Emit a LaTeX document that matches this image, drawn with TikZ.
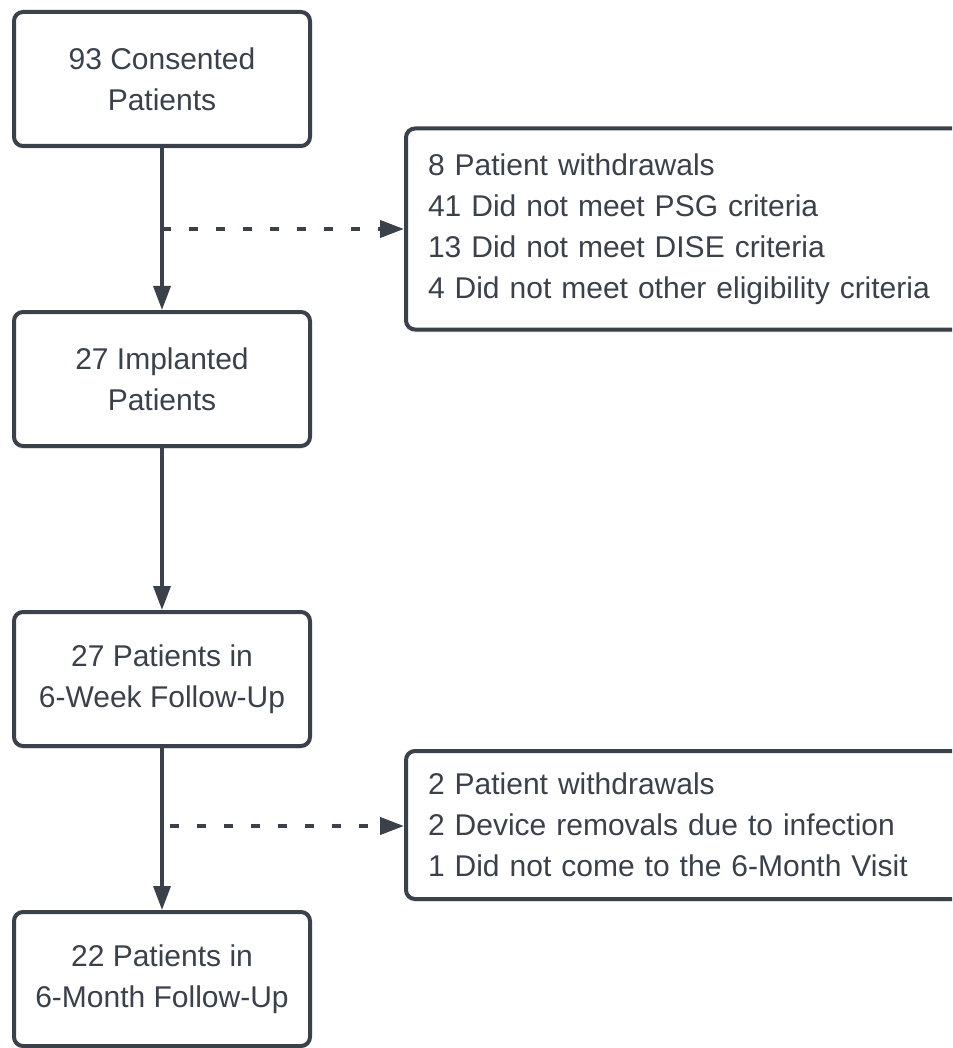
\documentclass[tikz,border=0pt]{standalone}
\usepackage{fontspec}
\setmainfont{Liberation Sans}
\usetikzlibrary{positioning,arrows.meta,shadows}
\definecolor{ink}{HTML}{3A414A}

\begin{document}
\begin{tikzpicture}[
  font=\fontsize{30}{41}\selectfont,
  text=ink,
  node distance=162pt,
  basic/.style = {draw=ink, line width=4pt, rounded corners=9pt, fill=white,
    drop shadow={shadow xshift=0pt, shadow yshift=-3pt, opacity=0.12}},
  stage/.style = {basic, minimum width=296pt, minimum height=134pt,
    inner sep=0pt, align=center},
  %excluded/.style = {basic, anchor=west, minimum width=548pt},
  excluded/.style = {basic, minimum width=556pt, text width=512pt,
    inner xsep=22pt, align=left},
  flow/.style = {draw=ink, line width=3.5pt, -{Triangle[length=24pt,width=17pt]}},
  dropout/.style = {flow, line width=4pt, dash pattern=on 9pt off 18pt},
]
  \useasboundingbox (0,0) rectangle (952pt,-1048pt);
  \clip (0,0) rectangle (952pt,-1048pt);

  \node[stage] (consented) at (162pt,-79pt) {93 Consented\\Patients};
  \node[stage, below=of consented] (implanted) {27 Implanted\\Patients};
  \node[stage, below=of implanted] (sixweek) {27 Patients in\\6-Week Follow-Up};
  \node[stage, below=of sixweek] (sixmonth) {22 Patients in\\6-Month Follow-Up};

  \path (consented) -- coordinate[midway] (m1) (implanted);
  \path (sixweek) -- coordinate[midway] (m2) (sixmonth);

  \node[excluded, minimum height=201pt, right=242pt of m1] (screenfail) {%
    8 Patient withdrawals\\%
    41 Did not meet PSG criteria\\%
    13 Did not meet DISE criteria\\%
    4 Did not meet other eligibility criteria%
  };
  \node[excluded, minimum height=148pt, right=242pt of m2, yshift=4pt] (lost) {%
    2 Patient withdrawals\\%
    2 Device removals due to infection\\%
    1 Did not come to the 6-Month Visit%
  };

  \draw[flow] (consented) -- (implanted);
  \draw[flow] (implanted) -- (sixweek);
  \draw[flow] (sixweek) -- (sixmonth);

  \draw[dropout] (m1) -- (screenfail);
  \draw[dropout] ([xshift=8pt,yshift=3pt]m2) -- ([yshift=-1pt]lost.west);
\end{tikzpicture}
\end{document}
